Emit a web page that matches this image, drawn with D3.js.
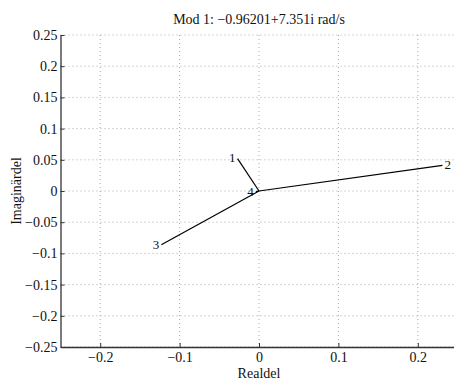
<!DOCTYPE html>
<html>
<head>
<meta charset="utf-8">
<script src="https://cdn.jsdelivr.net/npm/d3@7"></script>
<style>
  body { margin: 0; background: #fff; }
  text { font-family: "Liberation Serif", "DejaVu Serif", serif; }
</style>
</head>
<body>
<div id="chart"></div>
<script>
// Mode shape data (end points of the vectors, all drawn from the origin)
var modeLabels = ['1', '2', '3', '4'];
var realParts = [-0.027, 0.231, -0.123, -0.004];
var imagParts = [0.052, 0.041, -0.086, -0.001];
var xTicks = [-0.2, -0.1, 0, 0.1, 0.2];
var yTicks = [-0.25, -0.2, -0.15, -0.1, -0.05, 0, 0.05, 0.1, 0.15, 0.2, 0.25];
var title = 'Mod 1: \u22120.96201+7.351i rad/s';

var W = 454, H = 381;

var x = d3.scaleLinear().domain([-0.25, 0.25]).range([60.5, 457.5]);
var y = d3.scaleLinear().domain([-0.25, 0.25]).range([347, 35]);

var svg = d3.select('#chart').append('svg')
    .attr('width', W)
    .attr('height', H);

// grid lines (dotted)
svg.append('g').selectAll('line')
    .data(xTicks)
    .enter().append('line')
    .attr('x1', function(d) { return x(d); })
    .attr('x2', function(d) { return x(d); })
    .attr('y1', y(0.25))
    .attr('y2', y(-0.25))
    .attr('stroke', '#aaa')
    .attr('stroke-width', 1)
    .attr('stroke-dasharray', '1,3');

svg.append('g').selectAll('line')
    .data(yTicks)
    .enter().append('line')
    .attr('x1', x(-0.25))
    .attr('x2', W)
    .attr('y1', function(d) { return y(d); })
    .attr('y2', function(d) { return y(d); })
    .attr('stroke', '#aaa')
    .attr('stroke-width', 1)
    .attr('stroke-dasharray', '1,3');

var fmt = function(d) { return d3.format('~g')(d); };

// left axis, ticks pointing into the plot
var yAxis = svg.append('g')
    .attr('transform', 'translate(' + x(-0.25) + ',0)')
    .call(d3.axisLeft(y).tickValues(yTicks).tickFormat(fmt).tickSizeInner(-4).tickSizeOuter(0).tickPadding(3));

// bottom axis
var xAxis = svg.append('g')
    .attr('transform', 'translate(0,' + y(-0.25) + ')')
    .call(d3.axisBottom(x).tickValues(xTicks).tickFormat(fmt).tickSizeInner(-4).tickSizeOuter(0).tickPadding(5));

[xAxis, yAxis].forEach(function(a) {
  a.attr('font-family', '"Liberation Serif", serif').attr('font-size', 14);
  a.select('.domain').attr('stroke', '#333').attr('stroke-width', 1.3);
  a.selectAll('.tick line').attr('stroke', '#333');
  a.selectAll('.tick text')
    .attr('fill', '#111')
    .style('font-family', '"Liberation Serif", serif')
    .style('font-size', '14px');
});

// vectors from the origin
var data = modeLabels.map(function(l, i) {
  return {label: l, re: realParts[i], im: imagParts[i]};
});

svg.append('g').selectAll('line')
    .data(data)
    .enter().append('line')
    .attr('x1', x(0))
    .attr('y1', y(0))
    .attr('x2', function(d) { return x(d.re); })
    .attr('y2', function(d) { return y(d.im); })
    .attr('stroke', '#000')
    .attr('stroke-width', 1.2);

svg.append('g').selectAll('text')
    .data(data)
    .enter().append('text')
    .attr('x', function(d) { return x(d.re) + (d.re < 0 ? -2 : 2); })
    .attr('y', function(d) { return y(d.im); })
    .attr('dy', '0.3em')
    .attr('text-anchor', function(d) { return d.re < 0 ? 'end' : 'start'; })
    .style('font-size', '13px')
    .attr('fill', '#111')
    .text(function(d) { return d.label; });

// title and axis labels
svg.append('text')
    .attr('x', x(0))
    .attr('y', 24)
    .attr('text-anchor', 'middle')
    .style('font-size', '14px')
    .attr('fill', '#111')
    .text(title);

svg.append('text')
    .attr('x', x(0))
    .attr('y', 378)
    .attr('text-anchor', 'middle')
    .style('font-size', '14px')
    .attr('fill', '#111')
    .text('Realdel');

svg.append('text')
    .attr('transform', 'translate(21,' + y(0) + ') rotate(-90)')
    .attr('text-anchor', 'middle')
    .style('font-size', '14px')
    .attr('fill', '#111')
    .text('Imaginärdel');
</script>
</body>
</html>
